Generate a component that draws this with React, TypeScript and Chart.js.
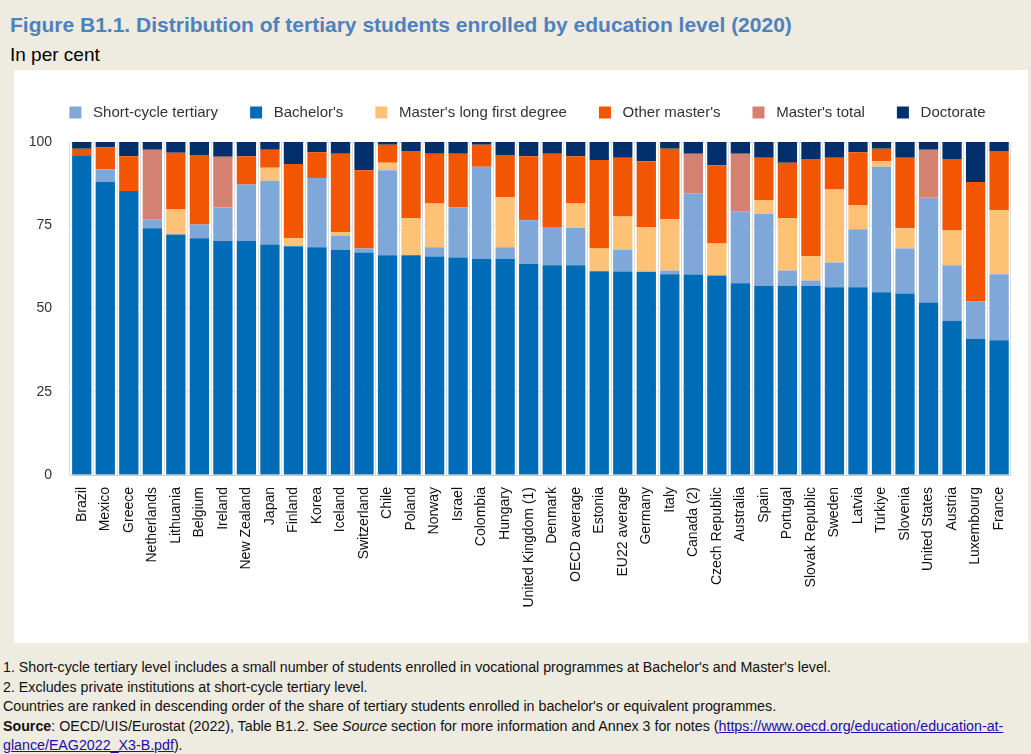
import React, { useEffect, useRef } from "react";
import { Chart, registerables } from "chart.js";

Chart.register(...registerables);

const categories = [
  "Brazil", "Mexico", "Greece", "Netherlands", "Lithuania", "Belgium", "Ireland", "New Zealand",
  "Japan", "Finland", "Korea", "Iceland", "Switzerland", "Chile", "Poland", "Norway", "Israel",
  "Colombia", "Hungary", "United Kingdom (1)", "Denmark", "OECD average", "Estonia", "EU22 average",
  "Germany", "Italy", "Canada (2)", "Czech Republic", "Australia", "Spain", "Portugal",
  "Slovak Republic", "Sweden", "Latvia", "Türkiye", "Slovenia", "United States", "Austria",
  "Luxembourg", "France",
];

const bachelors = [
  96.0, 88.0, 85.3, 74.1, 72.2, 71.1, 70.3, 70.3, 69.2, 68.7, 68.4, 67.6, 66.8, 66.0, 66.0, 65.6,
  65.3, 64.9, 64.9, 63.4, 63.0, 63.0, 61.2, 61.1, 61.0, 60.3, 60.2, 59.9, 57.6, 56.8, 56.8, 56.8,
  56.4, 56.4, 54.9, 54.5, 51.8, 46.3, 40.9, 40.5,
];

const shortCycle = [
  0, 3.8, 0, 2.7, 0, 4.1, 10.0, 16.9, 19.2, 0, 20.8, 4.3, 1.2, 25.5, 0, 2.8, 15.0, 27.7, 3.5, 13.1,
  11.5, 11.2, 0, 6.5, 0, 1.1, 24.4, 0, 21.6, 21.6, 4.6, 1.6, 7.4, 17.4, 37.7, 13.5, 31.6, 16.7,
  11.3, 19.8,
];

const mastersLongFirst = [
  0, 0, 0, 0, 7.7, 0, 0, 0, 3.9, 2.4, 0, 1.1, 0, 2.3, 11.2, 13.1, 0, 0, 15.0, 0, 0, 7.3, 6.8, 10.0,
  13.5, 15.4, 0, 9.6, 0, 4.2, 15.8, 7.3, 21.9, 7.3, 1.6, 6.1, 0, 10.4, 0, 19.2,
];

const otherMasters = [
  2.0, 6.6, 10.4, 0, 16.9, 20.9, 0, 8.5, 5.4, 22.3, 7.7, 23.5, 23.5, 5.4, 20.1, 15.0, 16.2, 6.6,
  12.7, 19.2, 22.0, 14.2, 26.6, 17.7, 19.7, 21.2, 0, 23.5, 0, 12.7, 16.6, 29.2, 9.6, 15.8, 3.8,
  21.2, 0, 21.5, 35.8, 17.8,
];

const mastersTotal = [
  0, 0, 0, 20.9, 0, 0, 15.3, 0, 0, 0, 0, 0, 0, 0, 0, 0, 0, 0, 0, 0, 0, 0, 0, 0, 0, 0, 11.9, 0,
  17.3, 0, 0, 0, 0, 0, 0, 0, 14.3, 0, 0, 0,
];

const doctorate = [
  2.0, 1.6, 4.3, 2.3, 3.2, 3.9, 4.4, 4.3, 2.3, 6.6, 3.1, 3.5, 8.5, 0.8, 2.7, 3.5, 3.5, 0.8, 3.9,
  4.3, 3.5, 4.3, 5.4, 4.7, 5.8, 2.0, 3.5, 7.0, 3.5, 4.7, 6.2, 5.1, 4.7, 3.1, 2.0, 4.7, 2.3, 5.1,
  12.0, 2.7,
];

const yTicks = [0, 25, 50, 75, 100];

const legendOrder = [
  "Short-cycle tertiary",
  "Bachelor's",
  "Master's long first degree",
  "Other master's",
  "Master's total",
  "Doctorate",
];

const FONT = "'Liberation Sans', Arial, Helvetica, sans-serif";

export default function App() {
  const ref = useRef<HTMLCanvasElement>(null);

  useEffect(() => {
    document.body.style.margin = "0";
    const canvas = ref.current;
    if (!canvas) return;

    const legendTweak = {
      id: "legendTweak",
      afterInit(chart: any) {
        const lg = chart.legend;
        if (!lg) return;
        const origFit = lg.fit;
        lg.fit = function () {
          origFit.call(this);
          this.height += 12;
        };
        const origDraw = lg.draw;
        lg.draw = function () {
          const ctx = this.ctx;
          ctx.save();
          ctx.translate(10, 0);
          origDraw.call(this);
          ctx.restore();
        };
      },
    };

    const mk = (label: string, data: number[], color: string) => ({
      label,
      data,
      backgroundColor: color,
      borderWidth: 0,
      barPercentage: 0.82,
      categoryPercentage: 1.0,
    });

    const defaultGen = (Chart as any).defaults.plugins.legend.labels.generateLabels;

    const chart = new Chart(canvas, {
      type: "bar",
      data: {
        labels: categories,
        datasets: [
          mk("Bachelor's", bachelors, "#006bb6"),
          mk("Short-cycle tertiary", shortCycle, "#7fa8d9"),
          mk("Master's long first degree", mastersLongFirst, "#fdc275"),
          mk("Other master's", otherMasters, "#f25602"),
          mk("Master's total", mastersTotal, "#d58172"),
          mk("Doctorate", doctorate, "#002f6c"),
        ],
      },
      options: {
        animation: false,
        responsive: false,
        maintainAspectRatio: false,
        layout: { padding: { top: 3, left: 0, right: 7, bottom: 0 } },
        plugins: {
          legend: {
            position: "top",
            labels: {
              boxWidth: 12,
              boxHeight: 12,
              padding: 32,
              color: "#333",
              font: { size: 15, family: FONT },
              generateLabels: (c: any) =>
                defaultGen(c).map((it: any) => ({ ...it, text: " " + it.text })),
              sort: (a: any, b: any) =>
                legendOrder.indexOf(a.text.trim()) - legendOrder.indexOf(b.text.trim()),
            },
          },
          tooltip: { enabled: false },
        },
        scales: {
          x: {
            stacked: true,
            grid: { color: "#dcdcdc", offset: true, drawTicks: false },
            border: { color: "#cccccc" },
            ticks: {
              autoSkip: false,
              maxRotation: 90,
              minRotation: 90,
              padding: 12,
              color: "#111",
              font: { size: 14, family: FONT },
            },
            afterFit: (s: any) => {
              s.height = 168;
            },
          },
          y: {
            stacked: true,
            min: 0,
            max: 100,
            afterBuildTicks: (s: any) => {
              s.ticks = yTicks.map((v) => ({ value: v }));
            },
            ticks: {
              padding: 18,
              color: "#333",
              font: { size: 14, family: FONT },
            },
            grid: { color: "#e6e6e6", drawTicks: false },
            border: { display: false },
            afterFit: (s: any) => {
              s.width = 56;
            },
          },
        },
      },
      plugins: [legendTweak],
    } as any);

    return () => chart.destroy();
  }, []);

  return (
    <div
      style={{
        position: "relative",
        width: 1031,
        height: 754,
        background: "#eeebe1",
        overflow: "hidden",
        fontFamily: FONT,
      }}
    >
      <div
        style={{
          position: "absolute",
          left: 10,
          top: 13,
          fontWeight: "bold",
          fontSize: 21,
          color: "#4f81bd",
          whiteSpace: "nowrap",
        }}
      >
        Figure B1.1. Distribution of tertiary students enrolled by education level (2020)
      </div>
      <div
        style={{
          position: "absolute",
          left: 10,
          top: 44,
          fontSize: 19,
          color: "#000",
          whiteSpace: "nowrap",
        }}
      >
        In per cent
      </div>
      <div
        style={{
          position: "absolute",
          left: 14,
          top: 70,
          width: 1014,
          height: 573,
          background: "#ffffff",
        }}
      >
        <canvas
          ref={ref}
          width={1014}
          height={573}
          style={{ width: 1014, height: 573, display: "block" }}
        />
      </div>
      <div
        style={{
          position: "absolute",
          left: 3,
          top: 657,
          fontSize: 15.5,
          lineHeight: "19.5px",
          color: "#111",
          whiteSpace: "nowrap",
          transform: "scaleX(0.918)",
          transformOrigin: "0 0",
        }}
      >
        <div>
          1. Short-cycle tertiary level includes a small number of students enrolled in vocational
          programmes at Bachelor's and Master's level.
        </div>
        <div>2. Excludes private institutions at short-cycle tertiary level.</div>
        <div>
          Countries are ranked in descending order of the share of tertiary students enrolled in
          bachelor's or equivalent programmes.
        </div>
        <div>
          <b>Source</b>: OECD/UIS/Eurostat (2022), Table B1.2. See <i>Source</i> section for more
          information and Annex 3 for notes (
          <a href="#" style={{ color: "#1a0dab" }}>
            https://www.oecd.org/education/education-at-
            <br />
            glance/EAG2022_X3-B.pdf
          </a>
          ).
        </div>
      </div>
    </div>
  );
}
